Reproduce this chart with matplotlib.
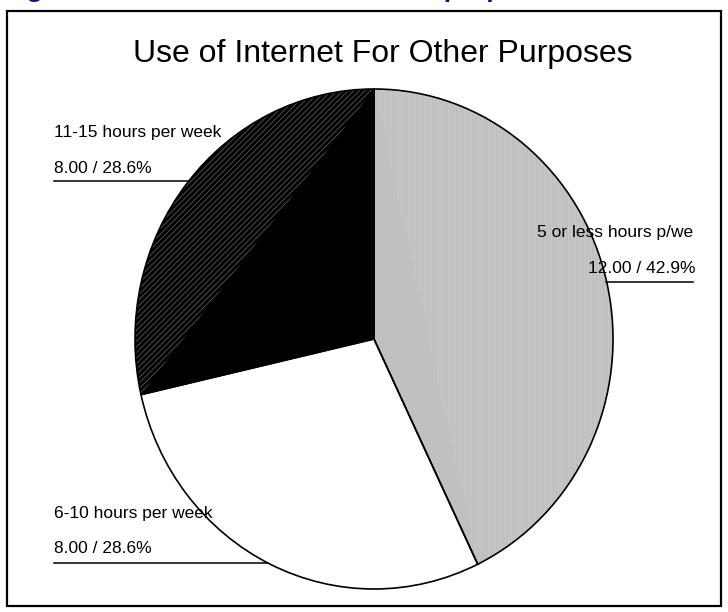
import numpy as np
import matplotlib
matplotlib.use("Agg")
import matplotlib.pyplot as plt
from matplotlib.patches import Polygon, Rectangle
from matplotlib.lines import Line2D

plt.rcParams["font.family"] = ["Liberation Sans", "DejaVu Sans"]
plt.rcParams["hatch.linewidth"] = 0.6

W, H = 728, 612

categories = ["5 or less hours p/we", "6-10 hours per week", "11-15 hours per week"]
counts = [12, 8, 8]
colors = ["#c0c0c0", "#ffffff", "#000000"]
title = "Use of Internet For Other Purposes"
caption = "Figure 12: Use of Internet for other purposes"


def fx(x):
    return x / W


def fy(y):
    return 1 - y / H


fig = plt.figure(figsize=(W / 100, H / 100), dpi=100)

# caption sits above the top edge, only its descenders show
fig.text(fx(5), fy(-3), caption, fontsize=19, fontweight="bold", style="italic",
         color="#10108a", ha="left", va="baseline")

# outer frame
fig.patches.append(Rectangle((fx(7), fy(606)), fx(721) - fx(7), fy(11) - fy(606),
                             transform=fig.transFigure, fill=False,
                             edgecolor="black", linewidth=1.6))

fig.text(fx(383), fy(62), title, fontsize=23, ha="center", va="baseline")

# pie drawn as a slightly tall ellipse
cx, cy, rx, ry = 374, 339, 239, 250
ax = fig.add_axes([fx(cx - rx), fy(cy + ry), 2 * rx / W, 2 * ry / H])
ax.pie(counts, colors=colors, startangle=90, counterclock=False,
       wedgeprops=dict(linewidth=0))
ax.set_aspect("auto")
ax.set_xlim(-1, 1)
ax.set_ylim(-1, 1)
ax.axis("off")

# fill texture on the outer segment of the gray and black slices
total = sum(counts)
ends = 90 - np.cumsum(counts) / total * 360


def segment(a0, a1):
    t = np.radians(np.linspace(a0, a1, 200))
    return np.column_stack([np.cos(t), np.sin(t)])


ax.add_patch(Polygon(segment(ends[0], 90), closed=True, facecolor="#c0c0c0",
                     edgecolor="#cbcbcb", hatch="|||||", linewidth=0, zorder=2))
ax.add_patch(Polygon(segment(90, ends[1] + 360), closed=True, facecolor="#000000",
                     edgecolor="#5a5a5a", hatch="//////", linewidth=0, zorder=2))

# outlines on top
wedges, _ = ax.pie(counts, colors=["none"] * 3, startangle=90, counterclock=False,
                   wedgeprops=dict(linewidth=1.2, edgecolor="black"))
for w in wedges:
    w.set_zorder(3)
ax.set_aspect("auto")
ax.set_xlim(-1, 1)
ax.set_ylim(-1, 1)

# slice labels with underlines
pcts = [c / total * 100 for c in counts]
vals = [f"{c:.2f} / {p:.1f}%" for c, p in zip(counts, pcts)]
fs = 12.5

fig.text(fx(693), fy(237), categories[0], fontsize=fs, ha="right", va="baseline")
fig.text(fx(695), fy(273), vals[0], fontsize=fs, ha="right", va="baseline")
fig.lines.append(Line2D([fx(606), fx(693)], [fy(282), fy(282)],
                        transform=fig.transFigure, color="black", linewidth=1.1))

fig.text(fx(54), fy(518), categories[1], fontsize=fs, ha="left", va="baseline")
fig.text(fx(54), fy(553), vals[1], fontsize=fs, ha="left", va="baseline")
fig.lines.append(Line2D([fx(54), fx(268)], [fy(563), fy(563)],
                        transform=fig.transFigure, color="black", linewidth=1.1))

fig.text(fx(54), fy(137.5), categories[2], fontsize=fs, ha="left", va="baseline")
fig.text(fx(54), fy(173), vals[2], fontsize=fs, ha="left", va="baseline")
fig.lines.append(Line2D([fx(54), fx(188)], [fy(181), fy(181)],
                        transform=fig.transFigure, color="black", linewidth=1.1))

fig.savefig("out.png", dpi=100)
